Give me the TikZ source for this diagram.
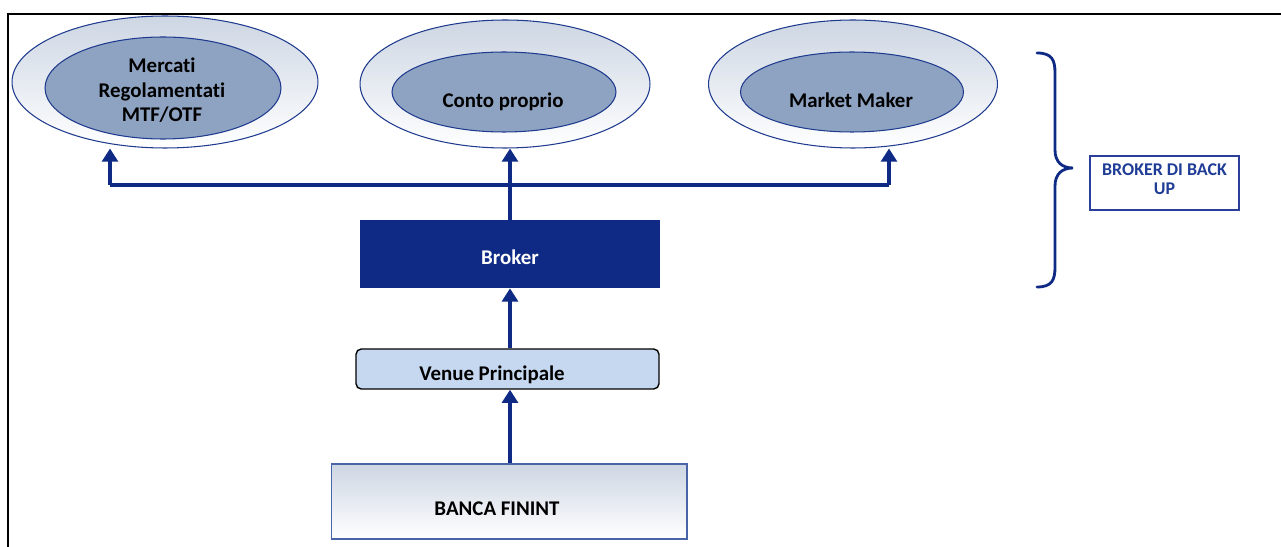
\documentclass[tikz,border=0pt]{standalone}
\usepackage{fontspec}
\setmainfont[Ligatures=NoCommon]{Carlito}
\usetikzlibrary{arrows.meta,shapes.geometric,positioning}
\definecolor{navy}{HTML}{0E2A84}
\definecolor{rim}{HTML}{1F3B8F}
\definecolor{paleblue}{HTML}{CDD6E3}
\definecolor{midblue}{HTML}{8EA3C2}
\definecolor{venueblue}{HTML}{C6D8EF}
\definecolor{bancaedge}{HTML}{4A64A8}
\definecolor{backedge}{HTML}{2B3E9A}
\definecolor{backtext}{HTML}{1F3C96}
\tikzset{
  outer/.style={ellipse,draw=rim,line width=0.6pt,top color=paleblue,bottom color=white,inner sep=0pt},
  inner/.style={ellipse,draw=rim,line width=0.6pt,fill=midblue,inner sep=0pt},
  lbl/.style={font=\fontsize{11.9}{14.2}\selectfont\bfseries,anchor=base,align=center,inner sep=0pt},
  link/.style={navy,line width=2pt,-{Triangle[width=9pt,length=7.5pt]}},
  bus/.style={navy,line width=2pt}
}
\begin{document}
\begin{tikzpicture}[x=0.02cm,y=-0.02cm]
    \useasboundingbox (0,0) rectangle (1281,547);
    % frame
    \draw[line width=1.2pt] (8,547) -- (8,14) -- (1281,14);

    % execution venues
    \node[outer,minimum width=6.12cm,minimum height=2.64cm] (mercati) at (165,82) {};
    \node[inner,minimum width=4.72cm,minimum height=2.04cm] (mercati-in) at (163,88) {};
    \node[lbl] (mercati-txt) at (162,122) {Mercati\\Regolamentati\\MTF/OTF};

    \node[outer,minimum width=5.8cm,minimum height=2.56cm] (conto) at (505,84) {};
    \node[inner,minimum width=4.48cm,minimum height=1.6cm] (conto-in) at (504,92) {};
    \node[lbl] (conto-txt) at (503,108) {Conto proprio};

    \node[outer,minimum width=5.78cm,minimum height=2.56cm] (maker) at (853,84) {};
    \node[inner,minimum width=4.46cm,minimum height=1.6cm] (maker-in) at (852,92) {};
    \node[lbl] (maker-txt) at (851,108) {Market Maker};

    % broker and bank
    \node[fill=navy,minimum width=6.02cm,minimum height=1.36cm,inner sep=0pt] (broker) at (510,254) {};
    \node[lbl,text=white] (broker-txt) at (510,264) {Broker};

    \node[draw,fill=venueblue,rounded corners=3pt,line width=0.8pt,minimum width=6.06cm,minimum height=0.8cm,inner sep=0pt] (venue) at (507.5,369) {};
    \node[lbl] (venue-txt) at (492,380) {Venue Principale};

    \node[draw=bancaedge,line width=0.6pt,top color=paleblue,bottom color=white,minimum width=7.12cm,minimum height=1.5cm,inner sep=0pt] (banca) at (509,501.5) {};
    \node[lbl] (banca-txt) at (497,515) {BANCA FININT};

    \node[draw=backedge,line width=0.8pt,minimum width=2.98cm,minimum height=1.08cm,inner sep=0pt] (backup) at (1164.5,183) {};
    \node[lbl,text=backtext,font=\fontsize{10.2}{11.3}\selectfont\bfseries] (backup-txt) at (1164.5,195) {BROKER DI BACK\\UP};

    % arrows
    \coordinate (busL) at (110,185);
    \coordinate (busR) at (889,185);
    \draw[bus] (busL) -- (busR);
    \draw[link] (busL) -- (busL |- mercati.south);
    \draw[link] (busR) -- (busR |- maker.south);
    \draw[link] (broker.north) -- (broker.north |- conto.south);
    \draw[link] (venue.north -| broker) -- (broker.south);
    \draw[link] (banca.north -| broker) -- (venue.south -| broker);

    % brace
    \draw[navy,line width=1.6pt,line cap=round] (1037,53) .. controls (1052,53) and (1055,60) .. (1055,73)
        -- (1055,150) .. controls (1055,162) and (1062,168) .. (1073,168)
        .. controls (1062,168) and (1055,174) .. (1055,186)
        -- (1055,267) .. controls (1055,280) and (1052,287) .. (1037,287);
\end{tikzpicture}
\end{document}
